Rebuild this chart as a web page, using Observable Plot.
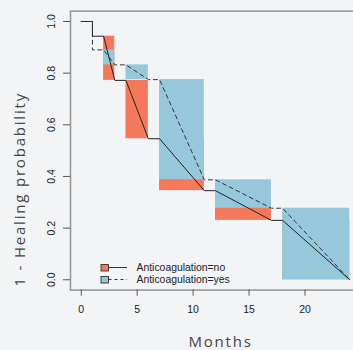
<!DOCTYPE html>
<html><head><meta charset="utf-8">
<script src="https://cdn.jsdelivr.net/npm/d3@7"></script>
<script src="https://cdn.jsdelivr.net/npm/@observablehq/plot@0.6"></script>
<style>
html,body{margin:0;padding:0;background:#f3f4f6;}
#wrap{position:relative;width:353px;height:350px;overflow:hidden;}
#legend{position:absolute;left:0;top:0;}
</style></head><body><div id="wrap"></div>
<script>
const xTicks = [0, 5, 10, 15, 20];
const yTicks = [0, 0.2, 0.4, 0.6, 0.8, 1.0];
const times   = [0, 1, 1, 2, 3, 4, 6, 7, 11, 12, 17, 18, 24];
const survNo  = [1, 1, 0.943, 0.943, 0.772, 0.772, 0.546, 0.546, 0.345, 0.345, 0.23, 0.23, 0];
const survYes = [1, 1, 0.89, 0.89, 0.832, 0.832, 0.775, 0.775, 0.387, 0.387, 0.277, 0.277, 0];
const boxStart  = [2, 4, 7, 12, 18];
const boxEnd    = [3, 6, 11, 17, 24];
const noTop     = [0.943, 0.772, 0.546, 0.345, 0.23];
const noBottom  = [0.772, 0.546, 0.345, 0.23, 0];
const yesTop    = [0.89, 0.832, 0.775, 0.387, 0.277];
const yesBottom = [0.832, 0.775, 0.387, 0.277, 0];
const groups = ["Anticoagulation=no", "Anticoagulation=yes"];
const colors = ["#f4795b", "#97c7da"];
const xTitle = "Months";
const yTitle = "1 - Healing probability";

const boxesNo = boxStart.map((s, i) => ({x1: s, x2: boxEnd[i], y1: noTop[i], y2: noBottom[i], g: groups[0]}));
const boxesYes = boxStart.map((s, i) => ({x1: s, x2: boxEnd[i], y1: yesTop[i], y2: yesBottom[i], g: groups[1]}));
const lineNo = times.map((t, i) => ({t, s: survNo[i]}));
const lineYes = times.map((t, i) => ({t, s: survYes[i]}));

const plot = Plot.plot({
  width: 353, height: 350,
  marginLeft: 70, marginRight: -7, marginTop: 10.66, marginBottom: 60.4,
  x: {domain: [-0.96, 24.96]},
  y: {domain: [-0.04, 1.04]},
  color: {domain: groups, range: colors},
  style: {background: "#f3f4f6", fontFamily: "'Liberation Sans', Arial, sans-serif", fontSize: "10.5px", color: "#222"},
  marks: [
    Plot.rect(boxesNo, {x1: "x1", x2: "x2", y1: "y1", y2: "y2", fill: "g"}),
    Plot.rect(boxesYes, {x1: "x1", x2: "x2", y1: "y1", y2: "y2", fill: "g"}),
    Plot.line(lineNo, {x: "t", y: "s", stroke: "#222", strokeWidth: 1}),
    Plot.line(lineYes, {x: "t", y: "s", stroke: "#333", strokeWidth: 1, strokeDasharray: "4,3.5"}),
    Plot.frame({stroke: "#999", strokeWidth: 1.6}),
    Plot.axisX({ticks: xTicks, tickSize: 6, tickPadding: 9, label: null, stroke: "#555", fill: "#222"}),
    Plot.axisY({ticks: yTicks, tickSize: 7, tickFormat: () => "", label: null, stroke: "#555"}),
    Plot.text(yTicks, {y: d => d, frameAnchor: "left", dx: -16, rotate: -90, textAnchor: "middle", lineAnchor: "bottom", text: d => d.toFixed(1), fill: "#222"}),
    Plot.text([xTitle], {text: d => d, frameAnchor: "bottom", dx: 5, dy: 56.4, lineAnchor: "bottom", fontSize: 15, fontFamily: "'Open Sans', sans-serif", fill: "#444"}),
    Plot.text([yTitle], {text: d => d, frameAnchor: "bottom-left", dx: -46, dy: -3.6, rotate: -90, textAnchor: "start", lineAnchor: "bottom", fontSize: 15, fontFamily: "'Open Sans', sans-serif", fill: "#444"})
  ]
});
d3.select(plot).selectAll("text")
  .filter(function() { return this.textContent === xTitle || this.textContent === yTitle; })
  .style("letter-spacing", "1.8px");
const wrap = document.getElementById("wrap");
wrap.appendChild(plot);

// legend
const ns = "http://www.w3.org/2000/svg";
const lg = document.createElementNS(ns, "svg");
lg.setAttribute("id", "legend");
lg.setAttribute("width", 353); lg.setAttribute("height", 350);
const rows = [{y: 267.5, dash: null}, {y: 279.5, dash: "3,3"}];
rows.forEach((r, i) => {
  const rect = document.createElementNS(ns, "rect");
  rect.setAttribute("x", 101); rect.setAttribute("y", r.y - 3);
  rect.setAttribute("width", 7.5); rect.setAttribute("height", 6.5);
  rect.setAttribute("fill", colors[i]); rect.setAttribute("stroke", "#333"); rect.setAttribute("stroke-width", 0.9);
  lg.appendChild(rect);
  const ln = document.createElementNS(ns, "line");
  ln.setAttribute("x1", 108.5); ln.setAttribute("x2", 127); ln.setAttribute("y1", r.y); ln.setAttribute("y2", r.y);
  ln.setAttribute("stroke", "#333"); ln.setAttribute("stroke-width", 1);
  if (r.dash) ln.setAttribute("stroke-dasharray", r.dash);
  lg.appendChild(ln);
  const tx = document.createElementNS(ns, "text");
  tx.setAttribute("x", 136.5); tx.setAttribute("y", r.y + 3);
  tx.setAttribute("font-family", "'Liberation Sans', Arial, sans-serif");
  tx.setAttribute("font-size", "10.4px"); tx.setAttribute("fill", "#222");
  tx.textContent = groups[i];
  lg.appendChild(tx);
});
wrap.appendChild(lg);
</script></body></html>
